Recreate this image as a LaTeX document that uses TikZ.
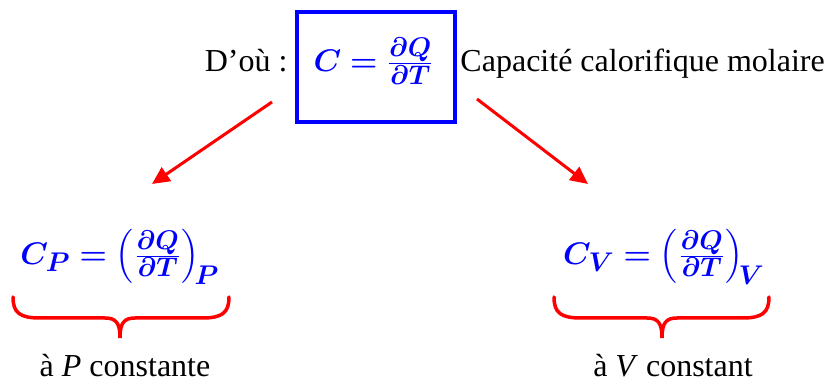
\RequirePackage{fix-cm}
\documentclass[tikz,border=0pt]{standalone}
\usepackage{amsmath}
\usepackage{bm}
\usepackage[no-math]{fontspec}
\setmainfont{Liberation Serif}
\newfontfamily\tnr{Liberation Serif}
\DeclareMathSizes{12.5}{12.5}{10.8}{8}
\usetikzlibrary{arrows.meta}
\definecolor{fblue}{RGB}{0,0,255}
\definecolor{fred}{RGB}{255,0,0}
\begin{document}
\begin{tikzpicture}[x=0.4pt,y=-0.4pt,
  txt/.style={font=\tnr\fontsize{12.8}{15}\selectfont, inner sep=0pt, anchor=base},
  eq/.style={font=\fontsize{12.5}{15}\selectfont, text=fblue, inner sep=0pt},
  arr/.style={draw=fred, line width=1.2pt, -{Triangle[length=7pt,width=6.5pt]}},
  brace/.style={draw=fred, line width=1.4pt, line cap=round}]
\useasboundingbox (0,0) rectangle (829,386);
\node[draw=fblue, line width=1.6pt, minimum width=63.2pt, minimum height=44pt, inner sep=0pt] (box) at (376,67) {};
\node[eq] (c) at (374,61) {$\bm{C = \frac{\partial Q}{\partial T}}$};
\node[txt, anchor=base east] (dou) at (288,72) {D’où :};
\node[txt, anchor=base west] (cap) at (460,72) {Capacité calorifique molaire};
\node[eq] (cp) at (120,257) {$\bm{C_P = \left(\frac{\partial Q}{\partial T}\right)_{\!P}}$};
\node[eq] (cv) at (664,257) {$\bm{C_V = \left(\frac{\partial Q}{\partial T}\right)_{\!V}}$};
\node[txt] (tp) at (125,377) {à \textit{P} constante};
\node[txt] (tv) at (673,377) {à \textit{V} constant};
\coordinate (l1) at (272,102);
\coordinate (l2) at (152,184);
\coordinate (r1) at (477,99);
\coordinate (r2) at (588,184);
\draw[arr] (l1) -- (l2);
\draw[arr] (r1) -- (r2);
\draw[brace] (13,297) .. controls (13,313) and (20,318) .. (40,318) -- (105,318)
  .. controls (116,318) and (120,323) .. (120,338)
  .. controls (120,323) and (124,318) .. (135,318) -- (202,318)
  .. controls (222,318) and (229,313) .. (229,297);
\draw[brace] (554,297) .. controls (554,313) and (561,318) .. (581,318) -- (647,318)
  .. controls (658,318) and (662,323) .. (662,338)
  .. controls (662,323) and (666,318) .. (677,318) -- (742,318)
  .. controls (762,318) and (769,313) .. (769,297);
\end{tikzpicture}
\end{document}
